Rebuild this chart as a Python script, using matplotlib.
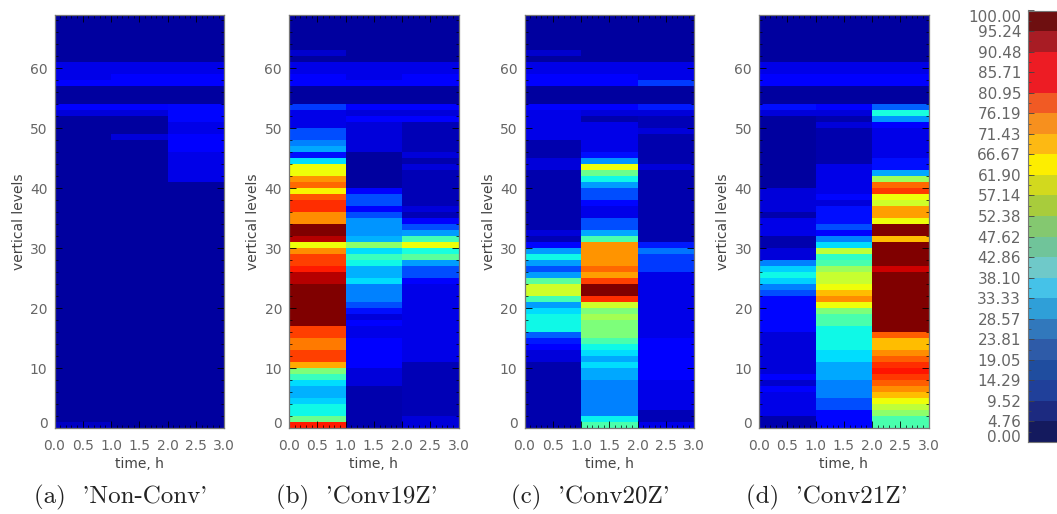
import numpy as np
import matplotlib
matplotlib.use('Agg')
import matplotlib.pyplot as plt
from matplotlib.colors import ListedColormap, BoundaryNorm
from matplotlib.ticker import MultipleLocator

# percent per vertical level (level 0 first), one list per hour
tail = [12]*2 + [9]*2 + [3]*8

a1 = [6] + [3]*51 + [8, 12] + [3]*3 + [12] + [9]*3 + [3]*8
a2 = [3]*48 + [8] + [3]*3 + [8, 12] + [3]*3 + tail
a3 = [3]*41 + [9]*5 + [12]*3 + [9]*2 + [13]*3 + [3]*3 + tail

b1 = [88, 48, 37, 37, 33, 30, 30, 34, 42, 50, 73, 84, 84, 78, 78, 84, 84] + [100]*7 + \
     [95, 95, 88, 84, 84, 76, 64, 95, 100, 100, 76, 76, 86, 86, 82, 65, 80, 75, 64, 64,
      34, 14, 29, 25, 20, 20, 9, 9, 9, 18] + [3]*3 + [12, 12, 9, 9, 3, 7] + [3]*6
b2 = [4]*7 + [8]*3 + [12]*5 + [9, 9, 11, 8, 14, 20] + [25]*3 + [34, 30, 30, 37, 42, 34, 52, 30,
      27, 27, 27, 20, 12, 20, 20, 11] + [3]*6 + [8]*5 + [11, 8, 12] + [3]*3 + [12, 9, 9, 9] + [3]*8
b3 = [8, 8] + [5]*9 + [9]*13 + [12, 20, 20, 28, 46, 38, 64, 43, 28, 20, 12, 5, 8] + [5]*6 + \
     [8, 4, 8] + [5]*5 + [12, 8, 12] + [3]*3 + tail

c1 = [4]*11 + [8, 8, 11, 15, 22, 37, 37, 37, 34, 28, 43, 60, 60, 46, 28, 20, 28, 37, 28, 13, 5, 8] + \
     [4]*10 + [8, 8, 4, 4, 4] + [9]*5 + [12] + [3]*3 + [12, 12, 9, 9, 3, 7] + [3]*6
c2 = [44, 36] + [25]*6 + [29, 29, 34, 29, 34, 37, 44, 50, 50, 50, 55, 50, 60, 86, 100, 100, 84, 74, 80,
      75, 75, 75, 75, 44, 29, 20, 20, 9, 9, 13, 20, 20, 28, 37, 48, 64, 27, 14] + [9]*5 + \
     [4, 8, 12] + [3]*3 + tail
c3 = [9, 5, 5] + [9]*5 + [12]*7 + [9]*11 + [18]*3 + [24, 15, 4, 4] + [4]*10 + [8] + [4]*5 + \
     [8, 5, 5, 8, 15] + [3]*3 + [18, 9, 9, 9] + [3]*8

d1 = [4, 4, 9, 9, 9, 9, 11, 7, 11] + [8]*7 + [13]*6 + [20, 25, 33, 37, 33, 25, 8, 8, 4, 4, 9, 9, 9, 4,
      8, 8, 8, 8] + [3]*12 + [8, 14] + [3]*3 + tail
d2 = [13]*3 + [20]*2 + [25]*3 + [29]*3 + [34]*2 + [37]*4 + [44, 44, 50, 64, 76, 71, 64, 59, 59, 54,
      44, 41, 58, 34, 25, 12, 20, 14, 14, 14, 8, 13] + [9]*5 + [4]*6 + [8, 4, 8, 12] + [3]*3 + tail
d3 = [44, 44, 52, 58, 64, 71, 76, 81, 85, 89, 86, 81, 76, 71, 71, 81] + [100]*10 + [93] + [100]*4 + \
     [71, 100, 100, 64, 74, 74, 60, 64, 85, 80, 54, 29, 14, 14] + [9]*5 + [11, 27, 38, 22] + [3]*3 + tail

panels = [(a1, a2, a3), (b1, b2, b3), (c1, c2, c3), (d1, d2, d3)]
captions = ["(a)  'Non-Conv'", "(b)  'Conv19Z'", "(c)  'Conv20Z'", "(d)  'Conv21Z'"]
caption_x = [34, 276, 511, 746]
panel_left = [54.5, 289, 524.5, 759]

time_edges = [0, 1, 2, 3]
level_edges = list(range(70))
x_ticks = [0.0, 0.5, 1.0, 1.5, 2.0, 2.5, 3.0]
y_ticks = [0, 10, 20, 30, 40, 50, 60]

bar_labels = ['0.00', '4.76', '9.52', '14.29', '19.05', '23.81', '28.57', '33.33', '38.10', '42.86', '47.62',
              '52.38', '57.14', '61.90', '66.67', '71.43', '76.19', '80.95', '85.71', '90.48', '95.24', '100.00']
bar_colors = ['#141a5e', '#1c2a80', '#20409a', '#1f4d9f', '#2e5ba8', '#3178bc', '#2f9fd8', '#45c2e8',
              '#6fc9c9', '#70c49a', '#84c870', '#a8cc3c', '#d2d91e', '#fdee00', '#fdb913', '#f7901e',
              '#f15a24', '#ed1c24', '#ed1c24', '#a81c24', '#6e0f10']

W, H = 1057, 514
GREY = '#666666'
plt.rcParams['font.family'] = 'DejaVu Sans'

fig = plt.figure(figsize=(W/100, H/100), dpi=100)


def box(left, top, right, bottom):
    return [left/W, 1 - bottom/H, (right - left)/W, (bottom - top)/H]


for cols, left in zip(panels, panel_left):
    ax = fig.add_axes(box(left, 14.5, left + 169.7, 428))
    data = np.array(cols).T
    ax.pcolormesh(time_edges, level_edges, data, cmap='jet', vmin=0, vmax=100, shading='flat')
    ax.set_xlim(0, 3)
    ax.set_ylim(0, 69)
    ax.set_xticks(x_ticks)
    ax.set_xticklabels(['%.1f' % t for t in x_ticks])
    ax.set_yticks(y_ticks)
    ax.set_yticklabels([str(t) for t in y_ticks])
    ax.xaxis.set_minor_locator(MultipleLocator(0.1))
    ax.yaxis.set_minor_locator(MultipleLocator(2))
    ax.tick_params(which='major', direction='in', length=5, width=0.6, top=True, right=True,
                   labelsize=10, labelcolor=GREY, color='black', pad=5)
    ax.tick_params(axis='x', which='major', pad=8)
    ax.tick_params(which='minor', direction='in', length=2.5, width=0.5, top=True, right=True, color='black')
    ax.get_yticklabels()[0].set_verticalalignment('baseline')
    ax.set_xlabel('time, h', fontsize=10, color='#444444', labelpad=3)
    ax.set_ylabel('vertical levels', fontsize=10, color='#444444', labelpad=3)
    for s in ax.spines.values():
        s.set_color('#777777')
        s.set_linewidth(0.9)

for text, x in zip(captions, caption_x):
    fig.text(x/W, 1 - 497/H, text, family='cmr10', fontsize=18, color='#222222', va='center', ha='left')

# colour table on the right, runs past the edge of the figure
bar_vals = [float(v) for v in bar_labels]
cax = fig.add_axes(box(1028, 10.5, 1070, 442))
norm = BoundaryNorm(bar_vals, len(bar_colors))
cax.pcolormesh([0, 1], bar_vals, np.array(bar_vals[:-1]).reshape(-1, 1) + 0.01,
               cmap=ListedColormap(bar_colors), norm=norm)
cax.set_xticks([])
cax.set_ylim(0, 100)
cax.set_yticks(bar_vals)
cax.set_yticklabels(bar_labels)
cax.tick_params(axis='y', direction='in', length=4, width=0.6, labelsize=11, labelcolor=GREY,
                color='#444444', pad=5)
cax.yaxis.set_minor_locator(MultipleLocator(100/42))
cax.tick_params(axis='y', which='minor', direction='in', length=2.5, width=0.5, color='#444444')
labels = cax.get_yticklabels()
labels[0].set_verticalalignment('baseline')
labels[-1].set_verticalalignment('top')
for s in cax.spines.values():
    s.set_color('#777777')

fig.savefig('out.png', dpi=100)
